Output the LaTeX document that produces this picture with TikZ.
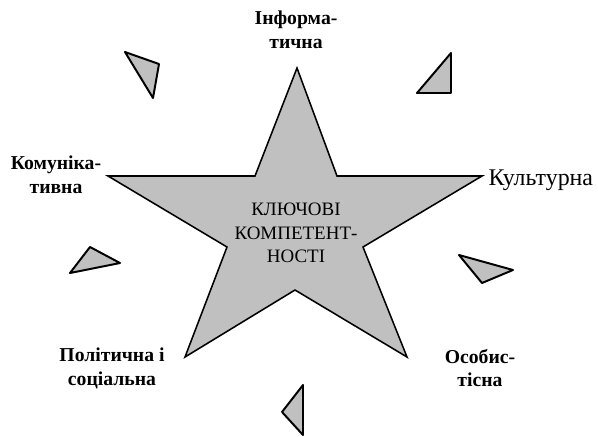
\documentclass[tikz,border=0pt]{standalone}
\usepackage{fontspec}
\setmainfont{Liberation Serif}
\usetikzlibrary{positioning}
\definecolor{stGray}{HTML}{C0C0C0}
\tikzset{
  starbody/.style={draw=black, line width=1.1pt, fill=stGray, line join=miter},
  wedge/.style={draw=black, line width=1.4pt, fill=stGray, line join=round},
  compname/.style={align=center, inner sep=1pt, font=\bfseries\fontsize{14}{17}\selectfont},
  plainname/.style={inner sep=1pt, font=\fontsize{17}{20}\selectfont},
  centertext/.style={align=center, inner sep=1pt, font=\fontsize{13.5}{16.5}\selectfont}
}

\begin{document}
\begin{tikzpicture}[x=0.025cm, y=-0.025cm]
\useasboundingbox (0,0) rectangle (598,436);

% star
\draw[starbody] (297,68) -- (337,176) -- (482,176) -- (363,247) -- (407,357)
  -- (295,290) -- (185,357) -- (227,247) -- (108,176) -- (255,176) -- cycle;
\node[centertext] (core) at (296,233) {КЛЮЧОВІ\\КОМПЕТЕНТ-\\НОСТІ};

% competences
\node[compname] (info) at (296,30) {Інформа-\\тична};
\node[compname] (comm) at (56,175) {Комуніка-\\тивна};
\node[plainname, anchor=west] (cult) at (487,180) {Культурна};
\node[compname] (soc) at (112,368) {Політична і\\соціальна};
\node[compname] (pers) at (480,368) {Особис-\\тісна};

% small wedges
\draw[wedge] (125,52) -- (159,64) -- (153,98) -- cycle;
\draw[wedge] (451,53) -- (451,93) -- (417,93) -- cycle;
\draw[wedge] (90,247) -- (120,263) -- (70,273) -- cycle;
\draw[wedge] (459,255) -- (513,270) -- (482,283) -- cycle;
\draw[wedge] (303,385) -- (303,435) -- (282,412) -- cycle;

\end{tikzpicture}
\end{document}
